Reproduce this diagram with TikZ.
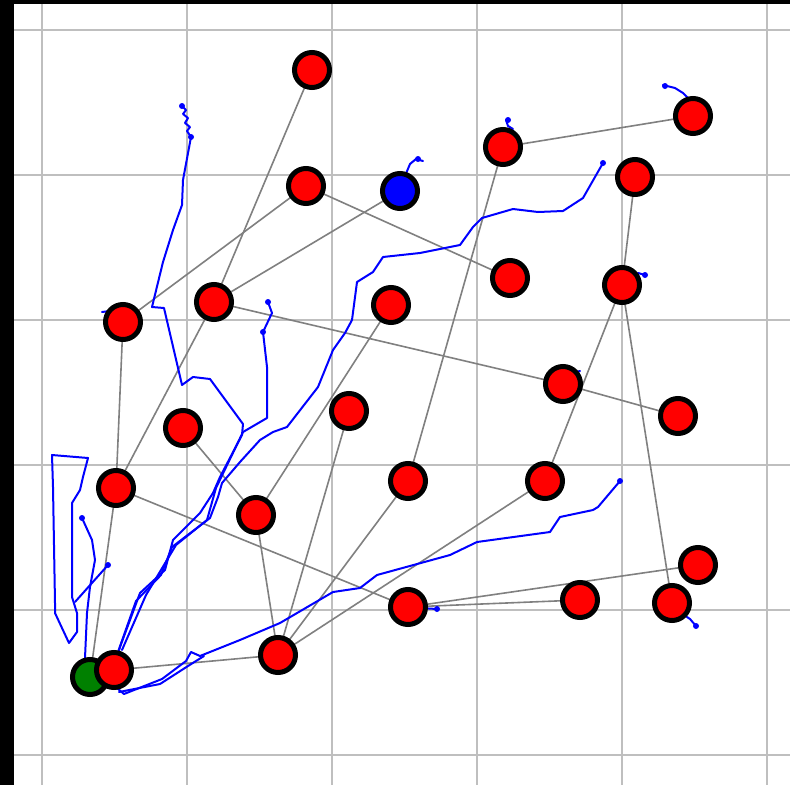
\documentclass[tikz,border=0pt]{standalone}
\begin{document}
\begin{tikzpicture}[x=1pt,y=-1pt,
  gridline/.style={draw=black!25,line width=1.8pt},
  link/.style={draw=black!50,line width=1.6pt},
  track/.style={draw=blue,line width=2pt,line join=round,line cap=round},
  tip/.style={fill=blue},
  vertex/.style={circle,minimum size=35pt,inner sep=0pt,line width=5pt,draw=black,fill=red},
  start/.style={vertex,fill=black!50!green},
  goal/.style={vertex,fill=blue}]
\useasboundingbox (0,0) rectangle (790,785);
\fill[white] (0,0) rectangle (790,785);
% grid
\foreach \g in {42,187,332,477,622,767} {\draw[gridline] (\g,0) -- (\g,785);}
\foreach \g in {30,175,320,465,610,755} {\draw[gridline] (0,\g) -- (790,\g);}
% frame bands
\fill[black] (0,0) rectangle (14,785);
\fill[black] (0,0) rectangle (790,3.5);
% node positions
\coordinate (p1) at (312,70);   \coordinate (p2) at (306,186);
\coordinate (p3) at (400,191);  \coordinate (p4) at (503,147);
\coordinate (p5) at (693,116);  \coordinate (p6) at (635,177);
\coordinate (p7) at (510,278);  \coordinate (p8) at (622,285);
\coordinate (p9) at (123,322);  \coordinate (p10) at (214,302);
\coordinate (p11) at (391,305); \coordinate (p12) at (563,384);
\coordinate (p13) at (678,416); \coordinate (p14) at (183,428);
\coordinate (p15) at (349,411); \coordinate (p16) at (116,488);
\coordinate (p17) at (256,515); \coordinate (p18) at (408,481);
\coordinate (p19) at (545,481); \coordinate (p20) at (698,565);
\coordinate (p21) at (408,607); \coordinate (p22) at (580,600);
\coordinate (p23) at (672,603); \coordinate (p24) at (90,677);
\coordinate (p25) at (114,670); \coordinate (p26) at (278,655);
% graph edges
\foreach \a/\b in {1/10,2/9,2/7,3/10,4/5,4/18,6/8,8/19,8/23,10/12,12/13,10/16,
  9/16,14/17,11/17,16/24,16/21,17/26,15/26,18/26,19/26,25/26,21/22,21/20}
  {\draw[link] (p\a) -- (p\b);}
% trajectories
\draw[track] (182,106) -- (186,110) -- (183,114) -- (188,118) -- (185,123) -- (190,127) -- (187,131) -- (191,137)
  -- (183,180) -- (182,205) -- (173,230) -- (163,262) -- (152,307) -- (164,308) -- (182,385) -- (193,377)
  -- (210,379) -- (243,424) -- (242,435) -- (220,477) -- (213,493) -- (200,513) -- (173,540) -- (165,570)
  -- (140,593) -- (120,647) -- (117,658);
\draw[track] (268,302) -- (272,313) -- (263,332) -- (267,367) -- (267,418) -- (243,432) -- (216,488)
  -- (207,520) -- (176,545) -- (146,595) -- (122,650);
\draw[track] (603,163) -- (583,198) -- (563,211) -- (538,212) -- (513,209) -- (482,218) -- (473,227)
  -- (460,245) -- (420,253) -- (383,257) -- (373,272) -- (357,282) -- (352,320) -- (345,333) -- (333,350)
  -- (318,387) -- (287,427) -- (273,432) -- (260,440) -- (240,462) -- (222,483) -- (218,497) -- (210,518)
  -- (172,547) -- (161,575) -- (136,601) -- (118,652);
\draw[track] (117,688) -- (124,694) -- (162,679) -- (186,661) -- (191,652) -- (200,656) -- (240,640)
  -- (280,623) -- (333,592) -- (360,588) -- (377,575) -- (450,555) -- (477,542) -- (550,532)
  -- (560,517) -- (593,510) -- (598,507) -- (620,481);
\draw[track] (119,692) -- (160,684) -- (188,666) -- (204,656);
\draw[track] (85,658) -- (87,613) -- (90,587) -- (95,560) -- (92,540) -- (82,518);
\draw[track] (75,602) -- (108,565);
\draw[track] (69,643) -- (77,632) -- (77,613) -- (72,597) -- (72,503) -- (80,490) -- (83,477)
  -- (88,458) -- (52,455) -- (53,487) -- (55,603) -- (55,613) -- cycle;
\draw[track] (405,176) -- (410,164) -- (416,159) -- (423,161);
\draw[track] (506,120) -- (508,126) -- (513,129);
\draw[track] (663,85) -- (675,88) -- (683,93) -- (688,98);
\draw[track] (638,273) -- (645,275);
\draw[track] (576,372) -- (580,371);
\draw[track] (684,615) -- (690,619) -- (696,626);
\draw[track] (420,608) -- (437,609);
\draw[track] (102,312) -- (110,311);
\foreach \t in {(268,302),(82,518),(108,565),(603,163),(620,481),(437,609),(182,106),(191,137),
  (263,332),(418,159),(508,120),(665,86),(696,626),(645,275)}
  {\fill[tip] \t circle (3);}
% nodes
\node[start] (n24) at (p24) {};
\node[vertex] (n1) at (p1) {};   \node[vertex] (n2) at (p2) {};
\node[goal] (n3) at (p3) {};     \node[vertex] (n4) at (p4) {};
\node[vertex] (n5) at (p5) {};   \node[vertex] (n6) at (p6) {};
\node[vertex] (n7) at (p7) {};   \node[vertex] (n8) at (p8) {};
\node[vertex] (n9) at (p9) {};   \node[vertex] (n10) at (p10) {};
\node[vertex] (n11) at (p11) {}; \node[vertex] (n12) at (p12) {};
\node[vertex] (n13) at (p13) {}; \node[vertex] (n14) at (p14) {};
\node[vertex] (n15) at (p15) {}; \node[vertex] (n16) at (p16) {};
\node[vertex] (n17) at (p17) {}; \node[vertex] (n18) at (p18) {};
\node[vertex] (n19) at (p19) {}; \node[vertex] (n20) at (p20) {};
\node[vertex] (n21) at (p21) {}; \node[vertex] (n22) at (p22) {};
\node[vertex] (n23) at (p23) {}; \node[vertex] (n25) at (p25) {};
\node[vertex] (n26) at (p26) {};
\end{tikzpicture}
\end{document}
